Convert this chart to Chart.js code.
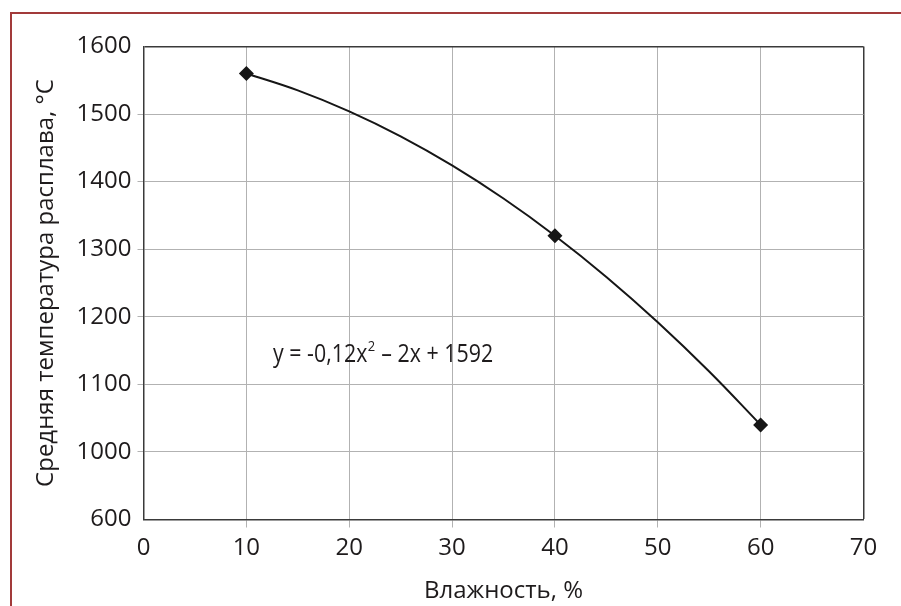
<!DOCTYPE html>
<html><head><meta charset="utf-8">
<script src="https://cdn.jsdelivr.net/npm/chart.js@4/dist/chart.umd.min.js"></script>
<style>
html,body{margin:0;padding:0;background:#fff;}
#wrap{position:relative;width:901px;height:606px;overflow:hidden;}
#frame{position:absolute;left:10px;top:12px;right:-5px;bottom:-5px;border-top:2px solid #a23a3a;border-left:2px solid #a23a3a;pointer-events:none;}
canvas{position:absolute;left:0;top:0;}
</style></head><body>
<div id="wrap"><canvas id="c" width="901" height="606"></canvas><div id="frame"></div></div>
<script>
// Measured points
const moisture = [10, 40, 60];
const meltTemp = [1560, 1320, 1040];
// Trend line
const trendX = [10, 15, 20, 25, 30, 35, 40, 45, 50, 55, 60];
const trendY = [1560, 1535, 1504, 1467, 1424, 1375, 1320, 1259, 1192, 1119, 1040];
// Axis ticks
const xTickValues = [0, 10, 20, 30, 40, 50, 60, 70];
const yTickValues = [900, 1000, 1100, 1200, 1300, 1400, 1500, 1600];
const yTickLabels = ['600', '1000', '1100', '1200', '1300', '1400', '1500', '1600'];
// Texts
const xTitle = 'Влажность, %';
const yTitle = 'Средняя температура расплава, °C';
const eqPart1 = 'y = -0,12x';
const eqSup = '2';
const eqPart2 = ' – 2x + 1592';
const eqAnchor = {x: 12.6, y: 1146};

const FONT = '"Open Sans", "Noto Sans", sans-serif';
const TEXT = '#1e1b1c';
const GRID = '#b2b2b2';
const AXIS = '#3a3a3a';

const eqPlugin = {
  id: 'eq',
  afterDatasetsDraw(chart) {
    const ctx = chart.ctx;
    const px = chart.scales.x.getPixelForValue(eqAnchor.x);
    const py = chart.scales.y.getPixelForValue(eqAnchor.y);
    ctx.save();
    ctx.fillStyle = TEXT;
    ctx.textBaseline = 'alphabetic';
    ctx.textAlign = 'left';
    const main = '23px ' + FONT, sup = '14px ' + FONT;
    ctx.font = main; const w1 = ctx.measureText(eqPart1).width; const w3 = ctx.measureText(eqPart2).width;
    ctx.font = sup; const w2 = ctx.measureText(eqSup).width;
    const total = w1 + w2 + 1 + w3;
    const sx = 220 / total;
    ctx.translate(px, py + 9);
    ctx.scale(sx, 1.08);
    ctx.font = main; ctx.fillText(eqPart1, 0, 0);
    ctx.font = sup; ctx.fillText(eqSup, w1 + 0.5, -10);
    ctx.font = main; ctx.fillText(eqPart2, w1 + w2 + 1, 0);
    ctx.restore();
  }
};

new Chart(document.getElementById('c'), {
  type: 'scatter',
  data: {
    datasets: [
      {
        data: trendX.map((x, i) => ({x: x, y: trendY[i]})),
        showLine: true,
        borderColor: '#161616',
        borderWidth: 2,
        pointRadius: 0,
        tension: 0.4,
        fill: false
      },
      {
        data: moisture.map((x, i) => ({x: x, y: meltTemp[i]})),
        showLine: false,
        pointStyle: 'rectRot',
        pointRadius: 7.5,
        backgroundColor: '#161616',
        borderColor: '#161616',
        borderWidth: 0
      }
    ]
  },
  options: {
    responsive: false,
    animation: false,
    devicePixelRatio: 1,
    layout: {padding: {left: 32, right: 37.5, top: 46.5, bottom: 0}},
    plugins: {legend: {display: false}, tooltip: {enabled: false}},
    scales: {
      x: {
        type: 'linear', min: 0, max: 70,
        afterFit: s => { s.height = 86.5; },
        afterBuildTicks: s => { s.ticks = xTickValues.map(v => ({value: v})); },
        ticks: {font: {family: FONT, size: 24}, color: TEXT, padding: 6, autoSkip: false, maxRotation: 0},
        grid: {
          color: c => c.tick.value === 70 ? AXIS : (c.tick.value === 0 ? 'rgba(0,0,0,0)' : GRID),
          lineWidth: c => c.tick.value === 70 ? 1.5 : 1,
          tickColor: c => (c.tick.value === 0 || c.tick.value === 70) ? 'rgba(0,0,0,0)' : GRID,
          tickLength: 8
        },
        border: {display: true, color: AXIS, width: 1.5},
        title: {display: true, text: xTitle, font: {family: FONT, size: 24}, color: TEXT, padding: 0}
      },
      y: {
        type: 'linear', min: 900, max: 1600,
        afterFit: s => { s.width = 111.5; },
        afterBuildTicks: s => { s.ticks = yTickValues.map(v => ({value: v})); },
        ticks: {
          font: {family: FONT, size: 24}, color: TEXT, padding: 6, autoSkip: false,
          callback: v => yTickLabels[yTickValues.indexOf(v)]
        },
        grid: {
          color: c => c.tick.value === 1600 ? AXIS : (c.tick.value === 900 ? 'rgba(0,0,0,0)' : GRID),
          lineWidth: c => c.tick.value === 1600 ? 1.5 : 1,
          tickColor: c => (c.tick.value === 900 || c.tick.value === 1600) ? 'rgba(0,0,0,0)' : GRID,
          tickLength: 6
        },
        border: {display: true, color: AXIS, width: 1.5},
        title: {display: true, text: yTitle, font: {family: FONT, size: 24}, color: TEXT, padding: 0}
      }
    }
  },
  plugins: [eqPlugin]
});
</script>
</body></html>
